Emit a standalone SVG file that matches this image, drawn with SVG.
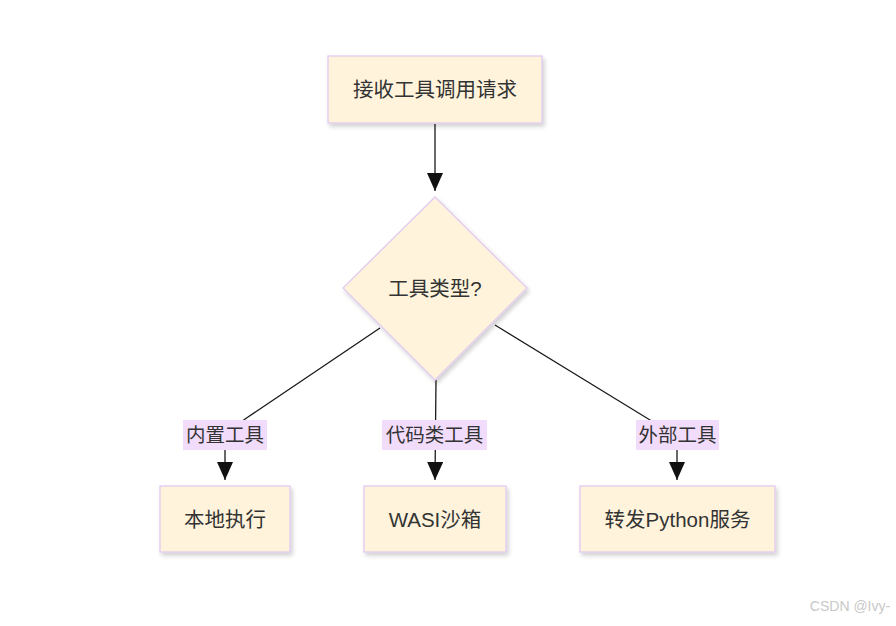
<svg xmlns="http://www.w3.org/2000/svg" width="896" height="626" viewBox="0 0 896 626">
<defs>
<style>
.node{fill:#fff3dc;stroke:#e2caf0;stroke-width:1.3}
.t{font-family:"Liberation Sans","Noto Sans CJK SC",sans-serif;font-size:20.5px;fill:#333;text-anchor:middle;dominant-baseline:central}
.lt{font-family:"Liberation Sans","Noto Sans CJK SC",sans-serif;font-size:19.5px;fill:#333;text-anchor:middle;dominant-baseline:central}
.lbg{fill:#f2dcfb}
.e{fill:none;stroke:#1a1a1a;stroke-width:1.3}
</style>
<marker id="ah" viewBox="0 0 18 16" refX="18" refY="8" markerWidth="18" markerHeight="16" markerUnits="userSpaceOnUse" orient="auto">
<path d="M0,0 L18,8 L0,16 Z" fill="#111"/>
</marker>
<filter id="sh" x="-10%" y="-10%" width="130%" height="140%">
<feDropShadow dx="2" dy="3" stdDeviation="2" flood-color="#000" flood-opacity="0.18"/>
</filter>
</defs>
<rect width="896" height="626" fill="#fff"/>
<g id="connectors">
<path class="e" d="M435,124 L435,191" marker-end="url(#ah)"/>
<path class="e" d="M380,328 L248,417 L225,433 L225,480" marker-end="url(#ah)"/>
<path class="e" d="M436,380 L435,480" marker-end="url(#ah)"/>
<path class="e" d="M495,325 L650,420 L677,433 L677,480" marker-end="url(#ah)"/>
</g>
<g id="edge-labels">
<rect class="lbg" x="183" y="420" width="84" height="30"/>
<text class="lt" x="225" y="435">内置工具</text>
<rect class="lbg" x="382" y="420" width="105" height="30"/>
<text class="lt" x="434.5" y="435">代码类工具</text>
<rect class="lbg" x="636" y="420" width="83" height="30"/>
<text class="lt" x="677.5" y="435">外部工具</text>
</g>
<g id="n1">
<rect class="node" x="328" y="56" width="214" height="67" filter="url(#sh)"/>
<text class="t" x="435" y="89.5">接收工具调用请求</text>
</g>
<g id="n2">
<polygon class="node" points="435,197 527,288 435,380 343,288" filter="url(#sh)"/>
<text class="t" x="435" y="288">工具类型?</text>
</g>
<g id="n3">
<rect class="node" x="160" y="486" width="130" height="66" filter="url(#sh)"/>
<text class="t" x="225" y="519">本地执行</text>
</g>
<g id="n4">
<rect class="node" x="364" y="486" width="142" height="66" filter="url(#sh)"/>
<text class="t" x="435" y="519">WASI沙箱</text>
</g>
<g id="n5">
<rect class="node" x="580" y="486" width="195" height="66" filter="url(#sh)"/>
<text class="t" x="677.5" y="519">转发Python服务</text>
</g>
<text x="850" y="611" font-family="Liberation Sans,sans-serif" font-size="14" fill="#c8c8c8" text-anchor="middle">CSDN @Ivy-</text>
</svg>
